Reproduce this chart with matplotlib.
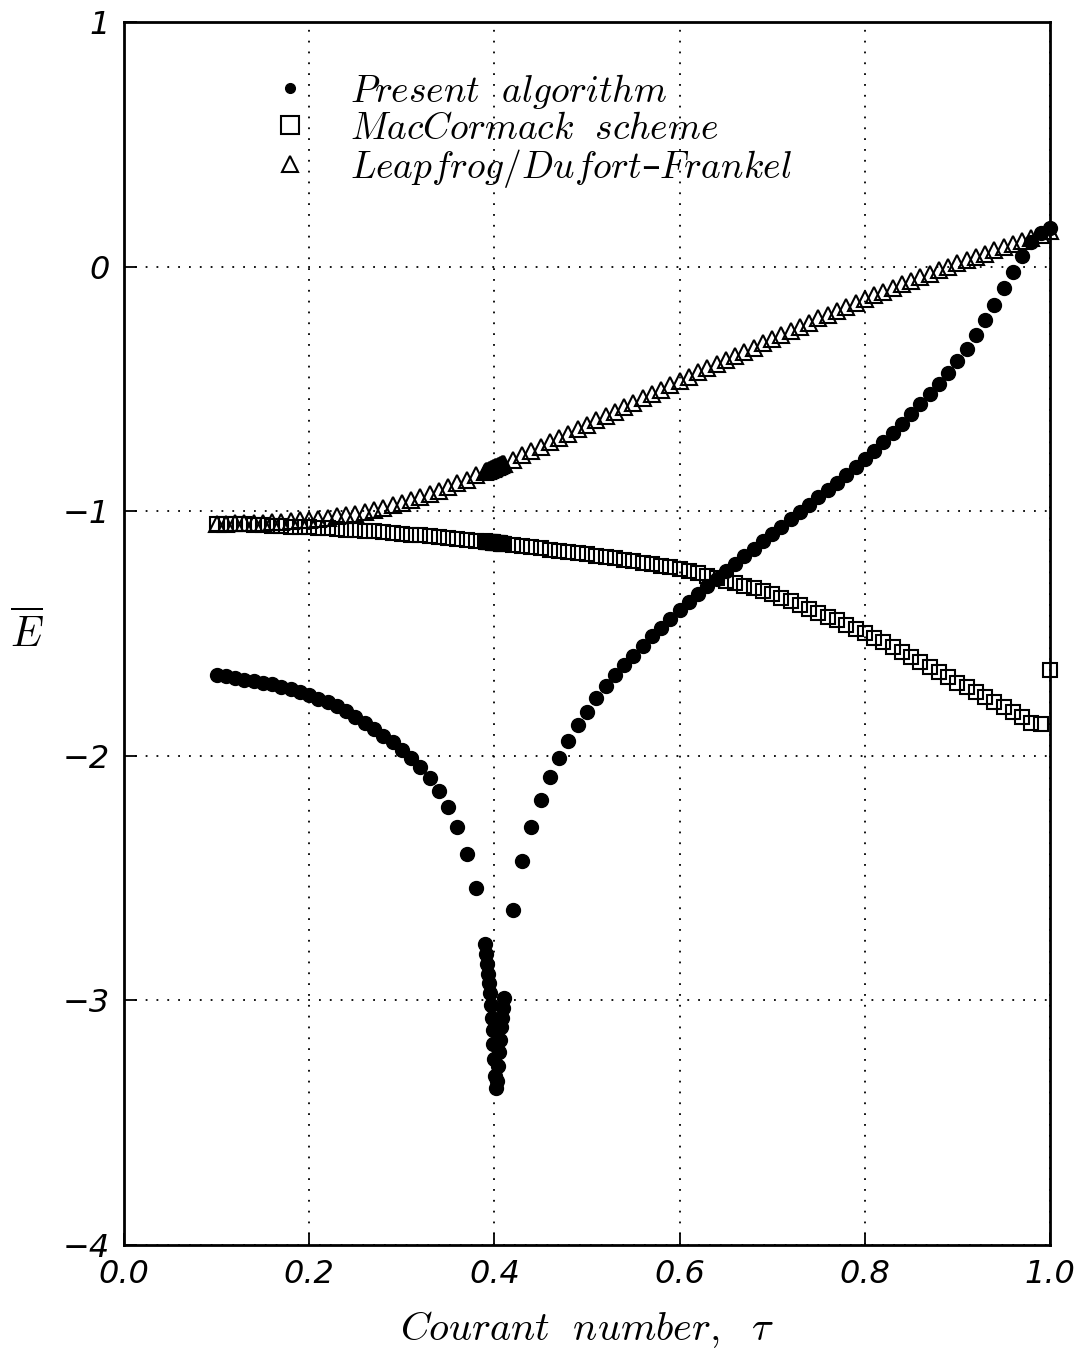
import numpy as np
import matplotlib
matplotlib.use("Agg")
import matplotlib.pyplot as plt

plt.rcParams['mathtext.fontset'] = 'cm'

# Courant number samples: coarse runs and the fine run near tau = 0.4
tau_lo = [0.10, 0.11, 0.12, 0.13, 0.14, 0.15, 0.16, 0.17, 0.18, 0.19,
          0.20, 0.21, 0.22, 0.23, 0.24, 0.25, 0.26, 0.27, 0.28, 0.29,
          0.30, 0.31, 0.32, 0.33, 0.34, 0.35, 0.36, 0.37, 0.38]
tau_fine = [0.390, 0.391, 0.392, 0.393, 0.394, 0.395, 0.396, 0.397, 0.398, 0.399,
            0.400, 0.401, 0.402, 0.403, 0.404, 0.405, 0.406, 0.407, 0.408, 0.409, 0.410]
tau_hi = [0.42, 0.43, 0.44, 0.45, 0.46, 0.47, 0.48, 0.49, 0.50, 0.51,
          0.52, 0.53, 0.54, 0.55, 0.56, 0.57, 0.58, 0.59, 0.60, 0.61,
          0.62, 0.63, 0.64, 0.65, 0.66, 0.67, 0.68, 0.69, 0.70, 0.71,
          0.72, 0.73, 0.74, 0.75, 0.76, 0.77, 0.78, 0.79, 0.80, 0.81,
          0.82, 0.83, 0.84, 0.85, 0.86, 0.87, 0.88, 0.89, 0.90, 0.91,
          0.92, 0.93, 0.94, 0.95, 0.96, 0.97, 0.98, 0.99, 1.00]

present_lo = [-1.670, -1.675, -1.680, -1.688, -1.694, -1.700, -1.708, -1.717, -1.727, -1.738,
              -1.752, -1.766, -1.781, -1.798, -1.817, -1.840, -1.864, -1.890, -1.918, -1.945,
              -1.975, -2.010, -2.045, -2.090, -2.145, -2.210, -2.290, -2.400, -2.540]
present_fine = [-2.77, -2.81, -2.85, -2.89, -2.93, -2.97, -3.02, -3.07, -3.12, -3.18,
                -3.24, -3.31, -3.36, -3.33, -3.27, -3.21, -3.16, -3.11, -3.07, -3.03, -2.99]
present_hi = [-2.63, -2.43, -2.29, -2.18, -2.085, -2.01, -1.94, -1.875, -1.82, -1.765,
              -1.715, -1.67, -1.63, -1.59, -1.55, -1.51, -1.475, -1.44, -1.405, -1.37,
              -1.338, -1.305, -1.275, -1.245, -1.215, -1.183, -1.152, -1.122, -1.093, -1.063,
              -1.033, -1.003, -0.973, -0.943, -0.913, -0.883, -0.852, -0.82, -0.787, -0.752,
              -0.717, -0.68, -0.642, -0.603, -0.563, -0.522, -0.478, -0.433, -0.385, -0.335,
              -0.278, -0.218, -0.155, -0.087, -0.02, 0.045, 0.10, 0.14, 0.16]

maccormack_lo = [-1.050, -1.051, -1.052, -1.053, -1.055, -1.056, -1.058, -1.060, -1.062, -1.064,
                 -1.066, -1.068, -1.070, -1.073, -1.075, -1.077, -1.080, -1.082, -1.085, -1.088,
                 -1.091, -1.095, -1.098, -1.102, -1.106, -1.110, -1.114, -1.118, -1.122]
maccormack_fine = [-1.123, -1.124, -1.124, -1.125, -1.125, -1.126, -1.126, -1.127, -1.127, -1.128,
                   -1.128, -1.129, -1.129, -1.130, -1.130, -1.131, -1.131, -1.132, -1.132, -1.133, -1.133]
maccormack_hi = [-1.138, -1.142, -1.147, -1.151, -1.156, -1.161, -1.166, -1.171, -1.176, -1.181,
                 -1.187, -1.192, -1.198, -1.204, -1.210, -1.216, -1.222, -1.229, -1.236, -1.245,
                 -1.254, -1.263, -1.273, -1.283, -1.293, -1.304, -1.315, -1.327, -1.340, -1.354,
                 -1.368, -1.383, -1.398, -1.414, -1.430, -1.446, -1.463, -1.480, -1.497, -1.516,
                 -1.535, -1.555, -1.575, -1.595, -1.616, -1.637, -1.658, -1.679, -1.700, -1.720,
                 -1.740, -1.760, -1.780, -1.800, -1.820, -1.840, -1.865, -1.870, -1.650]

leapfrog_lo = [-1.050, -1.050, -1.049, -1.048, -1.047, -1.046, -1.044, -1.042, -1.040, -1.037,
               -1.034, -1.030, -1.026, -1.021, -1.016, -1.010, -1.003, -0.995, -0.986, -0.976,
               -0.966, -0.955, -0.943, -0.930, -0.916, -0.901, -0.886, -0.870, -0.853]
leapfrog_fine = [-0.838, -0.836, -0.835, -0.833, -0.832, -0.830, -0.828, -0.827, -0.825, -0.823,
                 -0.822, -0.820, -0.818, -0.817, -0.815, -0.813, -0.812, -0.810, -0.808, -0.807, -0.805]
leapfrog_hi = [-0.788, -0.771, -0.754, -0.736, -0.718, -0.700, -0.682, -0.664, -0.646, -0.628,
               -0.610, -0.592, -0.574, -0.556, -0.538, -0.520, -0.502, -0.484, -0.466, -0.449,
               -0.432, -0.415, -0.398, -0.381, -0.364, -0.347, -0.330, -0.313, -0.296, -0.279,
               -0.262, -0.245, -0.228, -0.211, -0.195, -0.179, -0.163, -0.147, -0.131, -0.116,
               -0.101, -0.086, -0.071, -0.056, -0.042, -0.028, -0.014, 0.000, 0.014, 0.028,
               0.041, 0.054, 0.067, 0.080, 0.093, 0.106, 0.119, 0.132, 0.145]

labels = [r'$\mathit{Present\ \ algorithm}$',
          r'$\mathit{MacCormack\ \ scheme}$',
          r'$\mathit{Leapfrog/Dufort}$' + '\u2013' + r'$\mathit{Frankel}$']

xticks = [0.0, 0.2, 0.4, 0.6, 0.8, 1.0]
xticklabels = ['0.0', '0.2', '0.4', '0.6', '0.8', '1.0']
yticks = [1, 0, -1, -2, -3, -4]
yticklabels = ['1', '0', '\u22121', '\u22122', '\u22123', '\u22124']

tau = tau_lo + tau_fine + tau_hi
present = present_lo + present_fine + present_hi
maccormack = maccormack_lo + maccormack_fine + maccormack_hi
leapfrog = leapfrog_lo + leapfrog_fine + leapfrog_hi

fig = plt.figure(figsize=(10.83, 13.51), dpi=100)
ax = fig.add_axes([0.1145, 0.0785, 0.855, 0.905])

ax.plot(tau, maccormack, ls='none', marker='s', ms=9.5, mfc='none', mec='black', mew=1.5,
        clip_on=False, label=labels[1])
ax.plot(tau, leapfrog, ls='none', marker='^', ms=11, mfc='none', mec='black', mew=1.5,
        clip_on=False, label=labels[2])
ax.plot(tau, present, ls='none', marker='o', ms=10, mfc='black', mec='black',
        clip_on=False, label=labels[0])

ax.set_xlim(0, 1)
ax.set_ylim(-4, 1)
ax.set_xticks(xticks)
ax.set_xticklabels(xticklabels, fontsize=23, style='italic')
ax.set_yticks(yticks)
ax.set_yticklabels(yticklabels, fontsize=23, style='italic')
ax.tick_params(direction='in', length=9, width=1.3, pad=10)
ax.grid(True, color='black', linestyle=(0, (1, 5)), linewidth=1.3)
for s in ax.spines.values():
    s.set_linewidth(2)

ax.set_xlabel(r'$\mathit{Courant\ \ number,}\ \ \tau$', fontsize=29, labelpad=14)
ax.set_ylabel(r'$\overline{E}$', fontsize=30, rotation=0, labelpad=26, va='center')

h, l = ax.get_legend_handles_labels()
order = [2, 0, 1]
leg = ax.legend([h[i] for i in order], [l[i] for i in order], loc='upper left',
                bbox_to_anchor=(0.143, 0.975), frameon=False, fontsize=27,
                handlelength=0.8, handletextpad=1.2, labelspacing=0.0,
                borderpad=0, numpoints=1)
for hd, ms in zip(leg.legend_handles, [7, 13, 12]):
    hd.set_markersize(ms)

fig.savefig('out.png', dpi=100)
